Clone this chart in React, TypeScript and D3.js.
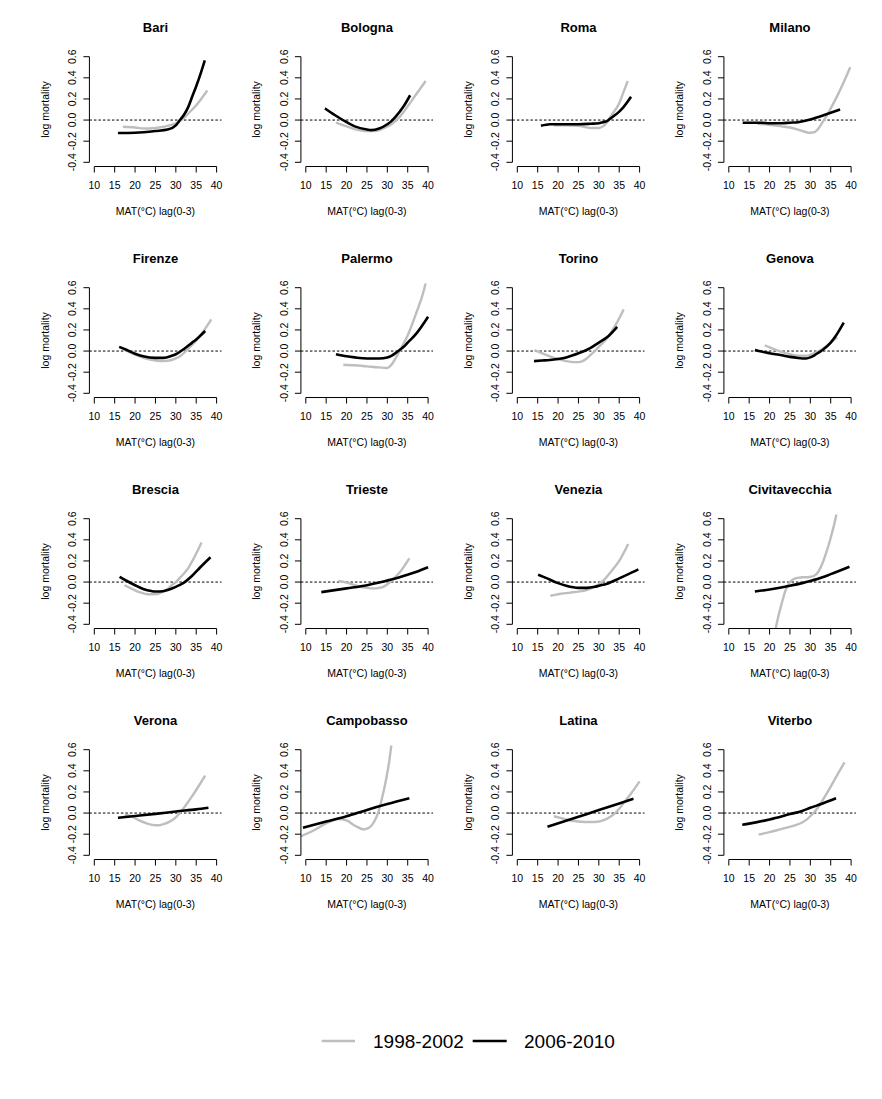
import React from "react";
import * as d3 from "d3";

type Pt = [number, number];

const cities = [
  "Bari", "Bologna", "Roma", "Milano",
  "Firenze", "Palermo", "Torino", "Genova",
  "Brescia", "Trieste", "Venezia", "Civitavecchia",
  "Verona", "Campobasso", "Latina", "Viterbo",
];

// 1998-2002 (grey) curves
const bari98: Pt[] = [[17,-0.063],[20,-0.07],[22,-0.08],[25,-0.075],[28,-0.055],[30,-0.03],[31,-0.01],[32,0.02],[33,0.06],[35,0.14],[37.7,0.28]];
const bologna98: Pt[] = [[17.4,-0.025],[20,-0.06],[22,-0.085],[25,-0.105],[27,-0.105],[29,-0.08],[31,-0.04],[33,0.03],[35,0.13],[37,0.24],[39.4,0.37]];
const roma98: Pt[] = [[19,-0.05],[22,-0.05],[25,-0.055],[28,-0.075],[30,-0.075],[31,-0.06],[32,-0.02],[33,0.04],[35,0.16],[36,0.26],[37.1,0.37]];
const milano98: Pt[] = [[17,-0.035],[20,-0.045],[23,-0.06],[25,-0.07],[27,-0.09],[29,-0.115],[30,-0.12],[31,-0.115],[32,-0.08],[33,-0.02],[34,0.04],[35,0.11],[37,0.26],[39.8,0.5]];
const firenze98: Pt[] = [[16.5,0.035],[20,-0.035],[22,-0.065],[25,-0.09],[27,-0.095],[29,-0.085],[30,-0.07],[31,-0.05],[33,0.02],[35,0.1],[37,0.2],[38.7,0.3]];
const palermo98: Pt[] = [[19.2,-0.13],[22,-0.135],[25,-0.145],[28,-0.155],[30,-0.16],[31,-0.13],[32,-0.07],[33,0.0],[34,0.07],[35,0.15],[37,0.35],[39,0.58],[39.6,0.68]];
const torino98: Pt[] = [[14.2,0.01],[16,-0.02],[18,-0.05],[20,-0.075],[22,-0.095],[24,-0.105],[25,-0.105],[26,-0.095],[27,-0.07],[28,-0.035],[29,0],[30,0.04],[32,0.12],[34,0.24],[36.1,0.395]];
const genova98: Pt[] = [[18.8,0.055],[20,0.035],[22,0.005],[25,-0.03],[27,-0.045],[29,-0.045],[30,-0.035],[31,-0.02],[33,0.02],[35,0.08],[36.6,0.13]];
const brescia98: Pt[] = [[17.4,-0.03],[19,-0.06],[21,-0.095],[23,-0.115],[25,-0.115],[27,-0.09],[28,-0.065],[29,-0.03],[30,0],[31,0.04],[33,0.13],[35,0.27],[36.3,0.375]];
const trieste98: Pt[] = [[18,0.01],[20,-0.005],[22,-0.03],[25,-0.055],[27,-0.06],[28,-0.055],[29,-0.045],[30,-0.02],[31,0.01],[33,0.09],[35.4,0.225]];
const venezia98: Pt[] = [[18.1,-0.13],[20,-0.115],[23,-0.1],[25,-0.09],[27,-0.075],[29,-0.045],[30,-0.02],[31,0.01],[33,0.1],[35,0.2],[37.2,0.36]];
const civitavecchia98: Pt[] = [[20.8,-0.56],[21.5,-0.44],[22,-0.35],[23,-0.2],[24,-0.07],[25,0.0],[26,0.03],[27,0.04],[28,0.045],[29,0.045],[30,0.05],[31,0.06],[32,0.1],[33,0.18],[34,0.29],[35,0.42],[36,0.57],[36.6,0.68]];
const verona98: Pt[] = [[17.5,-0.015],[19,-0.03],[21,-0.07],[23,-0.1],[25,-0.115],[26,-0.115],[27,-0.105],[29,-0.07],[30,-0.04],[31,0],[32,0.05],[34,0.16],[36,0.28],[37.2,0.355]];
const campobasso98: Pt[] = [[8.8,-0.22],[11.9,-0.165],[15.1,-0.095],[18,-0.057],[20,-0.07],[22.1,-0.12],[24.2,-0.155],[25.5,-0.14],[26.8,-0.08],[27.7,0],[28.6,0.126],[29.5,0.28],[30.5,0.5],[31.1,0.68]];
const latina98: Pt[] = [[19,-0.03],[21,-0.05],[23,-0.07],[25,-0.08],[28,-0.085],[30,-0.08],[31,-0.07],[33,-0.03],[34,0],[35,0.04],[36,0.09],[37,0.14],[38,0.19],[40,0.3]];
const viterbo98: Pt[] = [[17.3,-0.205],[20,-0.18],[23,-0.15],[26,-0.12],[28,-0.09],[29,-0.065],[30,-0.03],[31,0.01],[32,0.06],[33,0.12],[35,0.25],[36,0.32],[38.4,0.48]];

// 2006-2010 (black) curves
const bari06: Pt[] = [[15.8,-0.123],[20,-0.12],[25,-0.104],[28,-0.09],[30,-0.05],[31,0],[32,0.05],[33,0.12],[34,0.22],[35,0.32],[36,0.43],[37.1,0.565]];
const bologna06: Pt[] = [[14.7,0.11],[17,0.05],[20,-0.02],[22,-0.06],[25,-0.09],[26,-0.095],[28,-0.08],[30,-0.04],[31,-0.01],[32,0.03],[34,0.13],[35.6,0.235]];
const roma06: Pt[] = [[15.8,-0.055],[18,-0.04],[20,-0.04],[25,-0.04],[28,-0.035],[30,-0.03],[31,-0.02],[32,-0.01],[33,0.02],[35,0.08],[36,0.12],[37.9,0.22]];
const milano06: Pt[] = [[13.4,-0.025],[18,-0.025],[20,-0.03],[23,-0.03],[25,-0.025],[27,-0.02],[29,-0.005],[30,0.005],[32,0.03],[35,0.07],[37.3,0.1]];
const firenze06: Pt[] = [[16.1,0.04],[18,0.01],[20,-0.025],[22,-0.05],[25,-0.065],[27,-0.065],[29,-0.045],[30,-0.03],[32,0.02],[34,0.08],[35,0.11],[37.2,0.19]];
const palermo06: Pt[] = [[17.4,-0.03],[20,-0.05],[22,-0.06],[25,-0.07],[28,-0.07],[30,-0.06],[31,-0.045],[32,-0.02],[33,0.01],[34,0.04],[35,0.08],[37,0.16],[40,0.325]];
const torino06: Pt[] = [[14.1,-0.095],[16,-0.09],[18,-0.085],[20,-0.075],[22,-0.06],[24,-0.035],[25,-0.02],[27,0.01],[28,0.03],[30,0.08],[32,0.13],[34.5,0.23]];
const genova06: Pt[] = [[16.4,0.01],[18,-0.005],[20,-0.02],[23,-0.04],[25,-0.055],[27,-0.065],[29,-0.07],[30,-0.06],[31,-0.04],[32,-0.015],[33,0.01],[35,0.08],[36,0.13],[38.2,0.27]];
const brescia06: Pt[] = [[16.2,0.05],[18,0.01],[20,-0.03],[22,-0.065],[24,-0.085],[25,-0.09],[26,-0.09],[28,-0.075],[30,-0.045],[32,-0.005],[34,0.06],[36,0.14],[38.5,0.235]];
const trieste06: Pt[] = [[13.8,-0.095],[20,-0.06],[25,-0.03],[28,-0.005],[30,0.015],[33,0.045],[35,0.07],[37,0.095],[40,0.14]];
const venezia06: Pt[] = [[15.1,0.07],[17,0.04],[20,-0.01],[22,-0.035],[25,-0.055],[27,-0.055],[29,-0.045],[30,-0.035],[32,-0.015],[35,0.035],[37,0.07],[39.7,0.12]];
const civitavecchia06: Pt[] = [[16.4,-0.09],[20,-0.07],[25,-0.035],[28,-0.01],[30,0.01],[33,0.045],[35,0.075],[37,0.105],[39.6,0.145]];
const verona06: Pt[] = [[15.8,-0.045],[20,-0.028],[25,-0.008],[30,0.015],[35,0.035],[38,0.05]];
const campobasso06: Pt[] = [[9.3,-0.14],[15,-0.08],[20,-0.03],[25,0.03],[30,0.085],[35.4,0.14]];
const latina06: Pt[] = [[17.4,-0.13],[25,-0.035],[30,0.028],[35,0.09],[38.5,0.135]];
const viterbo06: Pt[] = [[13.3,-0.11],[15,-0.1],[20,-0.06],[25,-0.01],[28,0.02],[30,0.05],[33,0.09],[36.3,0.14]];

const series1998: Pt[][] = [bari98, bologna98, roma98, milano98, firenze98, palermo98, torino98, genova98, brescia98, trieste98, venezia98, civitavecchia98, verona98, campobasso98, latina98, viterbo98];
const series2006: Pt[][] = [bari06, bologna06, roma06, milano06, firenze06, palermo06, torino06, genova06, brescia06, trieste06, venezia06, civitavecchia06, verona06, campobasso06, latina06, viterbo06];

const xTicks = [10, 15, 20, 25, 30, 35, 40];
const yTicks = [-0.4, -0.2, 0, 0.2, 0.4, 0.6];
const yTickLabels = ["-0.4", "-0.2", "0.0", "0.2", "0.4", "0.6"];
const legendLabels = ["1998-2002", "2006-2010"];
const xLabel = "MAT(°C) lag(0-3)";
const yLabel = "log mortality";

const FONT = "'Liberation Sans', Arial, Helvetica, sans-serif";
const GREY = "#bebebe";
const W = 882;
const H = 1099;

const X10 = 94.3; // x-pixel of tick "10" in first column
const COL_STEP = 211.5;
const X_SPAN = 122.3; // 10 -> 40
const Y_TOP = 56.7; // y-pixel of tick 0.6 in first row
const ROW_STEP = 231;
const Y_SPAN = 105.6; // 0.6 -> -0.4

function Panel({ idx }: { idx: number }) {
  const col = idx % 4;
  const row = Math.floor(idx / 4);
  const x = d3.scaleLinear().domain([10, 40]).range([X10 + col * COL_STEP, X10 + col * COL_STEP + X_SPAN]);
  const y = d3.scaleLinear().domain([-0.4, 0.6]).range([Y_TOP + row * ROW_STEP + Y_SPAN, Y_TOP + row * ROW_STEP]);
  const left = x(8.8), right = x(41.2), top = y(0.64), bottom = y(-0.44);
  const cx = (left + right) / 2;
  const cy = (top + bottom) / 2;
  const line = d3.line<Pt>().x((d) => x(d[0])).y((d) => y(d[1])).curve(d3.curveMonotoneX);
  const clipId = `clip-${idx}`;
  return (
    <g>
      <defs>
        <clipPath id={clipId}>
          <rect x={left} y={top} width={right - left} height={bottom - top} />
        </clipPath>
      </defs>
      <text x={cx} y={top - 25.2} dy="0.35em" textAnchor="middle" fontWeight="bold" fontSize={13} fontFamily={FONT}>
        {cities[idx]}
      </text>
      <line x1={left} x2={right} y1={y(0)} y2={y(0)} stroke="#000" strokeWidth={1} strokeDasharray="2.5,2" />
      <g clipPath={`url(#${clipId})`}>
        <path d={line(series1998[idx]) || ""} fill="none" stroke={GREY} strokeWidth={2.4} strokeLinejoin="round" strokeLinecap="butt" />
        <path d={line(series2006[idx]) || ""} fill="none" stroke="#000" strokeWidth={2.6} strokeLinejoin="round" strokeLinecap="butt" />
      </g>
      {/* y axis */}
      <line x1={left} x2={left} y1={y(-0.4)} y2={y(0.6)} stroke="#000" strokeWidth={1} />
      {yTicks.map((t, i) => (
        <g key={`yt${i}`}>
          <line x1={left - 6} x2={left} y1={y(t)} y2={y(t)} stroke="#000" strokeWidth={1} />
          <text transform={`translate(${left - 16.7},${y(t)}) rotate(-90)`} dy="0.35em" textAnchor="middle" fontSize={10.5} fontFamily={FONT}>
            {yTickLabels[i]}
          </text>
        </g>
      ))}
      {/* x axis */}
      <line x1={x(10)} x2={x(40)} y1={bottom} y2={bottom} stroke="#000" strokeWidth={1} />
      {xTicks.map((t) => (
        <g key={`xt${t}`}>
          <line x1={x(t)} x2={x(t)} y1={bottom} y2={bottom + 6} stroke="#000" strokeWidth={1} />
          <text x={x(t)} y={bottom + 19.2} dy="0.35em" textAnchor="middle" fontSize={10.5} fontFamily={FONT}>
            {t}
          </text>
        </g>
      ))}
      <text x={cx} y={bottom + 44.5} dy="0.35em" textAnchor="middle" fontSize={10.5} fontFamily={FONT}>
        {xLabel}
      </text>
      <text transform={`translate(${left - 44.4},${cy}) rotate(-90)`} dy="0.35em" textAnchor="middle" fontSize={10.5} fontFamily={FONT}>
        {yLabel}
      </text>
    </g>
  );
}

export default function App() {
  const ly = 1041;
  return (
    <svg
      width={W}
      height={H}
      viewBox={`0 0 ${W} ${H}`}
      style={{ position: "absolute", left: 0, top: 0, background: "#fff" }}
    >
      <rect x={0} y={0} width={W} height={H} fill="#fff" />
      {cities.map((_, i) => (
        <Panel key={i} idx={i} />
      ))}
      <g>
        <line x1={321.7} x2={355} y1={ly} y2={ly} stroke={GREY} strokeWidth={2.4} />
        <text x={373} y={ly} dy="0.35em" fontSize={19} fontFamily={FONT}>
          {legendLabels[0]}
        </text>
        <line x1={472.7} x2={506.7} y1={ly} y2={ly} stroke="#000" strokeWidth={2.4} />
        <text x={524} y={ly} dy="0.35em" fontSize={19} fontFamily={FONT}>
          {legendLabels[1]}
        </text>
      </g>
    </svg>
  );
}
